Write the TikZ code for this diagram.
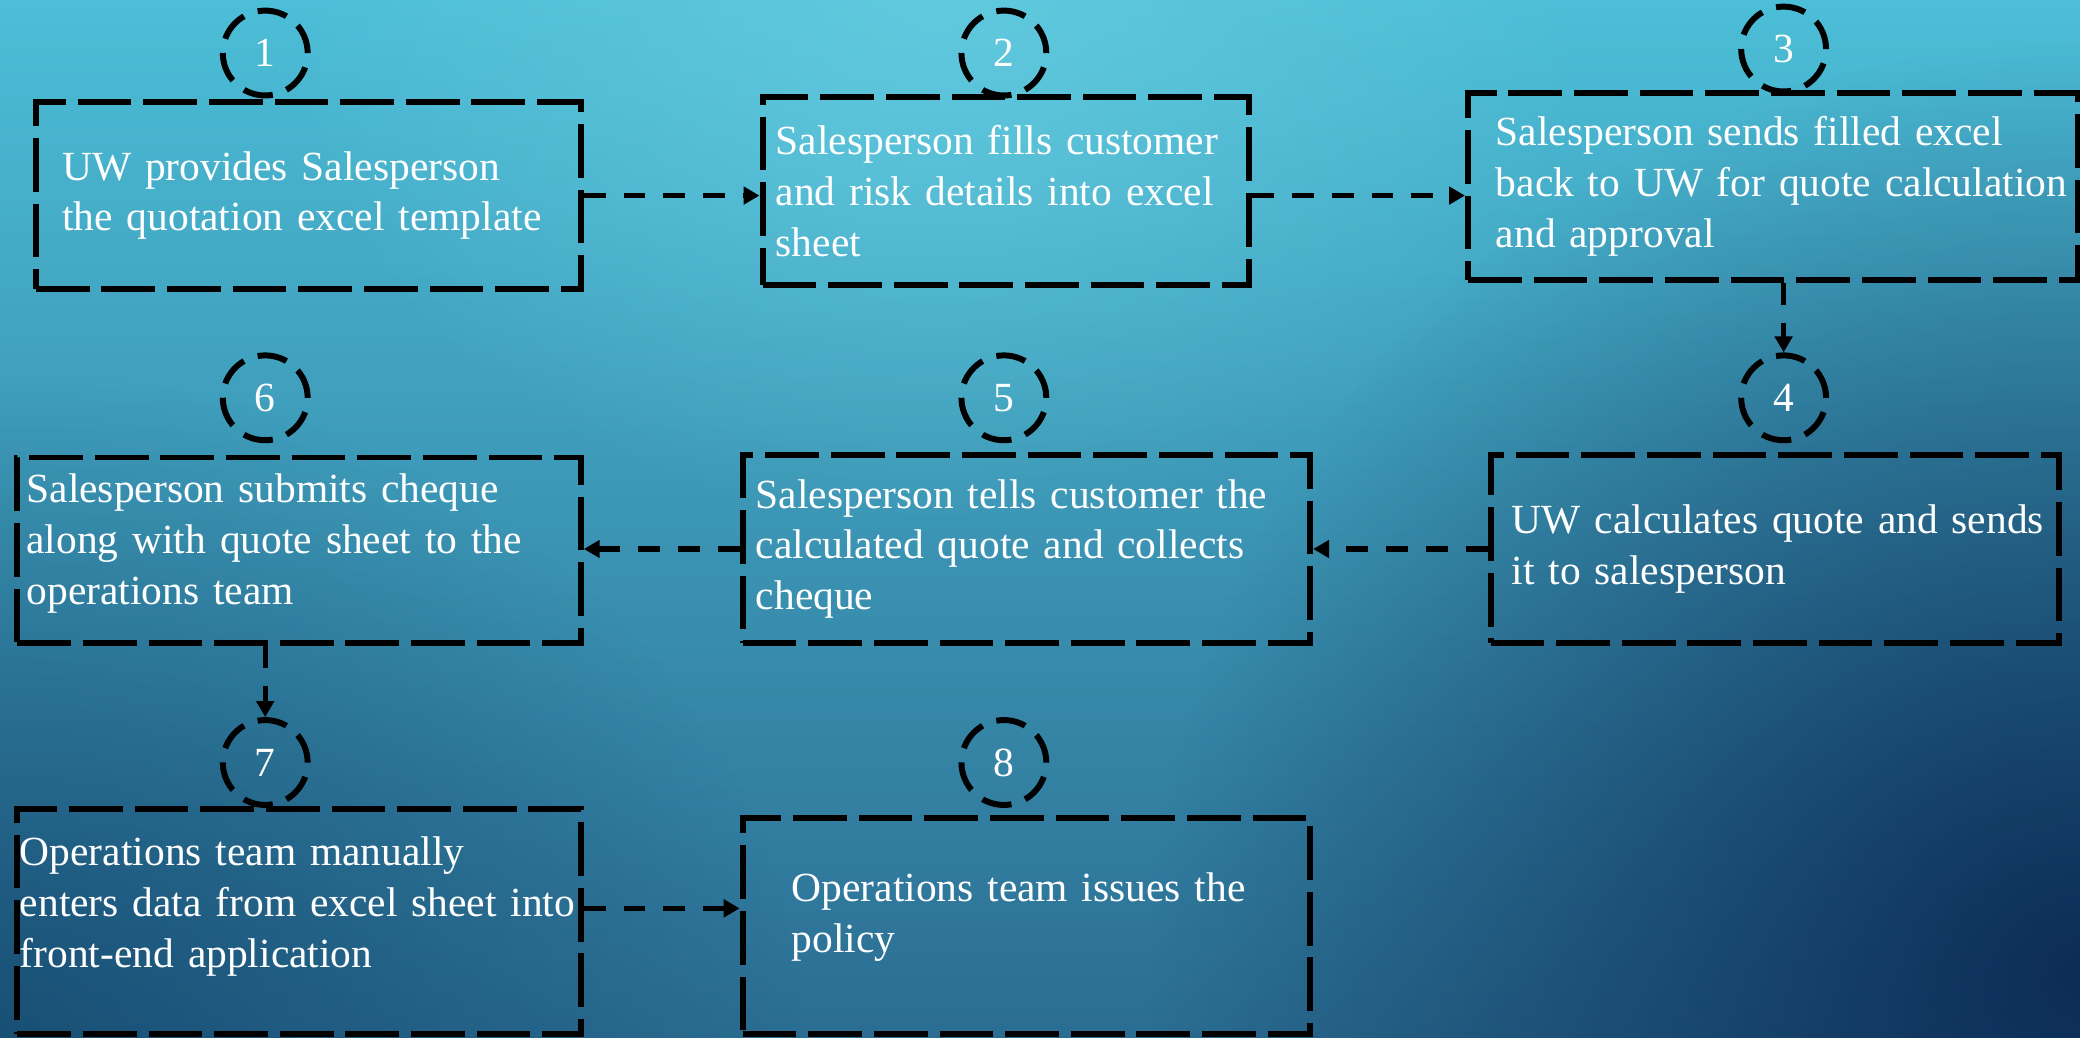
\documentclass[tikz,border=0pt]{standalone}
\usepackage{fontspec}
\setmainfont{Liberation Serif}
\usetikzlibrary{calc, positioning, shapes, arrows.meta, backgrounds, fadings}
\definecolor{bgtop}{HTML}{4CBED7}
\definecolor{bgmid}{HTML}{45ADCB}
\definecolor{bgbot}{HTML}{2B6D92}
\definecolor{bglight}{HTML}{66CCE0}
\definecolor{bgdark}{HTML}{06204A}
\definecolor{bgshade}{HTML}{0F3F66}
\tikzfading[name=glow, inner color=transparent!0, outer color=transparent!100]
\tikzstyle{Box}=[rectangle, draw, line width=0.09cm, dash pattern=on 0.81cm off 0.18cm, inner sep=0pt, align=left, text=white, font=\fontsize{17.8}{21.8}\selectfont]
\tikzstyle{Num}=[circle, draw, line width=0.09cm, dash pattern=on 0.45cm off 0.22cm, minimum size=1.28cm, inner sep=0pt, text=white, font=\fontsize{17.8}{21.8}\selectfont]
\tikzstyle{Flow}=[-{Triangle[length=0.24cm, width=0.26cm]}, line width=0.08cm, dash pattern=on 0.33cm off 0.27cm]

\begin{document}
\begin{tikzpicture}
			\useasboundingbox (0,0) rectangle (31.37,15.65);
			% background
			\begin{scope}
				\clip (0,0) rectangle (31.37,15.65);
				\shade[top color=bgtop, middle color=bgmid, bottom color=bgbot] (0,0) rectangle (31.37,15.65);
				\fill[bglight, path fading=glow, opacity=0.8] (4.12,7.65) rectangle (24.12,23.65);
				\fill[bgshade, path fading=glow, opacity=0.65] (-12,-10) rectangle (12,10);
				\fill[bgdark, path fading=glow, opacity=0.85] (17.37,-13) rectangle (45.37,15);
			\end{scope}

			\node[Num] (n1) at (4.0, 14.85) {1};
			\node[Num] (n2) at (15.14, 14.85) {2};
			\node[Num] (n3) at (26.9, 14.91) {3};
			\node[Num] (n4) at (26.9, 9.65) {4};
			\node[Num] (n5) at (15.14, 9.65) {5};
			\node[Num] (n6) at (4.0, 9.65) {6};
			\node[Num] (n7) at (4.0, 4.15) {7};
			\node[Num] (n8) at (15.14, 4.15) {8};

			\node[Box, minimum width=8.22cm, minimum height=2.82cm, text width=7.42cm] (1) at (4.65, 12.70)
				{UW provides Salesperson\\the quotation excel template};
			\node[Box, minimum width=7.34cm, minimum height=2.84cm, text width=6.94cm] (2) at (15.17, 12.77)
				{Salesperson fills customer\\and risk details into excel\\sheet};
			\node[Box, minimum width=9.2cm, minimum height=2.82cm, text width=8.36cm] (3) at (26.74, 12.84)
				{Salesperson sends filled excel\\\mbox{back to UW for quote calculation}\\and approval};
			\node[Box, minimum width=8.58cm, minimum height=2.84cm, text width=7.94cm] (4) at (26.77, 7.37)
				{\mbox{UW calculates quote and sends}\\it to salesperson};
			\node[Box, minimum width=8.56cm, minimum height=2.84cm, text width=8.16cm] (5) at (15.48, 7.37)
				{Salesperson tells customer the\\calculated quote and collects\\cheque};
			\node[Box, minimum width=8.5cm, minimum height=2.8cm, text width=8.22cm] (6) at (4.51, 7.35)
				{Salesperson submits cheque\\along with quote sheet to the\\operations team\rule[-0.34cm]{0pt}{0pt}};
			\node[Box, minimum width=8.5cm, minimum height=3.4cm, text width=8.42cm] (7) at (4.51, 1.75)
				{Operations team manually\\\mbox{enters data from excel sheet into}\\front-end application\rule[-0.58cm]{0pt}{0pt}};
			\node[Box, minimum width=8.56cm, minimum height=3.26cm, text width=7.08cm] (8) at (15.48, 1.68)
				{Operations team issues the\\policy\rule[-0.42cm]{0pt}{0pt}};

			\draw[Flow] (1) -- (1 -| 2.west);
			\draw[Flow] (2.east |- 1) -- (3.west |- 1);
			\draw[Flow] (3.south -| n4) -- (n4);
			\draw[Flow] (4) -- (4 -| 5.east);
			\draw[Flow] (5) -- (5 -| 6.east);
			\draw[Flow] (6.south -| n7) -- (n7);
			\draw[Flow] ([yshift=0.2cm]7.east) -- ([yshift=0.2cm]7.east -| 8.west);
		\end{tikzpicture}
\end{document}
